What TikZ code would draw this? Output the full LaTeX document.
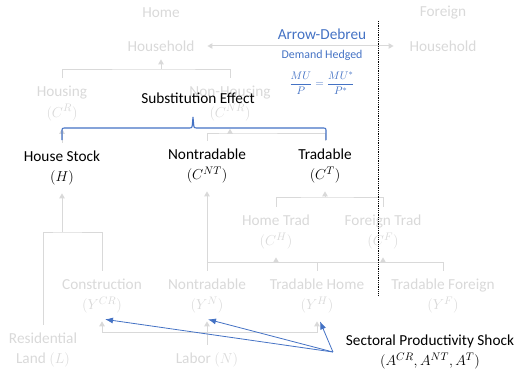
\documentclass[tikz,border=0pt]{standalone}
\usepackage{fontspec}
\setmainfont{Carlito}
\usetikzlibrary{arrows.meta}
\definecolor{faint}{HTML}{D9D9D9}
\definecolor{accent}{HTML}{4472C4}

\begin{document}
\begin{tikzpicture}[x=1pt,y=-1pt,
  every node/.style={inner sep=0pt, outer xsep=0pt, outer ysep=8pt, align=center,
    font=\fontsize{15.3}{20.5}\selectfont},
  ghost/.style={text=faint},
  main/.style={text=black},
  note/.style={text=accent},
  link/.style={draw=faint, line width=1pt},
  up/.style={link, -{Triangle[width=5.5pt,length=5pt]}},
  both/.style={link, {Triangle[width=5.5pt,length=5pt]}-{Triangle[width=5.5pt,length=5pt]}},
  shockarrow/.style={draw=accent, line width=0.8pt, -{Latex[width=6pt,length=8pt]}},
  bracket/.style={draw=accent, line width=1.1pt},
]
\useasboundingbox (0,0) rectangle (519,369);

% --- households and the risk-sharing condition
\node[ghost] (home) at (161,13) {Home};
\node[ghost] (hh) at (161,46) {Household};
\node[ghost] (foreign) at (443,13) {Foreign};
\node[ghost] (fhh) at (443,46) {Household};
\node[note] (ad) at (322,34) {Arrow-Debreu};
\node[note, font=\fontsize{11.9}{14}\selectfont] (dh) at (322,55) {Demand Hedged};
\node[note, font=\fontsize{11}{13}\selectfont, outer ysep=0pt] (mu) at (322,83)
  {$\displaystyle\frac{MU}{P}=\frac{MU^*}{P^*}$};

% --- consumption tree
\node[ghost] (housing) at (62,103.5) {Housing\\$(C^R)$};
\node[ghost] (nonhousing) at (230,103.5) {Non-Housing\\$(C^{NR})$};
\node[main] (subst) at (198,98) {Substitution Effect};
\node[main] (hstock) at (62,168) {House Stock\\$(H)$};
\node[main] (cnt) at (207,166) {Nontradable\\$(C^{NT})$};
\node[main] (ct) at (325,166) {Tradable\\$(C^{T})$};
\node[ghost] (ch) at (276,232) {Home Trad\\$(C^{H})$};
\node[ghost] (cf) at (383,232) {Foreign Trad\\$(C^{F})$};

% --- production
\node[ghost] (ycr) at (102,296) {Construction\\$(Y^{CR})$};
\node[ghost] (yn) at (207,296) {Nontradable\\$(Y^{N})$};
\node[ghost] (yh) at (317,296) {Tradable Home\\$(Y^{H})$};
\node[ghost] (yf) at (443,296) {Tradable Foreign\\$(Y^{F})$};
\node[ghost] (land) at (43,350) {Residential\\Land $(L)$};
\node[ghost] (labor) at (207,360) {Labor $(N)$};
\node[main] (shock) at (430,352) {Sectoral Productivity Shock\\$(A^{CR},A^{NT},A^{T})$};

% --- aggregation lines
\draw[both, shorten <=13pt, shorten >=16pt] (hh.east) -- (fhh.west);

\coordinate (b1) at (161,69);
\draw[link] (housing.north) |- (b1) -| (nonhousing.north);
\draw[up] (b1) -- (hh.south);

\draw[up] (hstock.north) -- (housing.south);

\coordinate (b2) at (230,133);
\draw[link] (cnt.north) |- (b2) -| (ct.north);
\draw[up] (b2) -- (nonhousing.south);

\coordinate (b3) at (325,197);
\draw[link] (ch.north) |- (b3) -| (cf.north);
\draw[up] (b3) -- (ct.south);

\coordinate (b4) at (62,232);
\draw[link] (land.north) |- (b4) -| (ycr.north);
\draw[up] (b4) -- (hstock.south);

\coordinate (b5) at (207,262);
\draw[link] (yn.north) -- (b5) -- (b5 -| yf) -- (yf.north);
\draw[link] (yh.north) -- (yh.north |- b5);
\draw[up] (b5) -- (cnt.south);
\draw[up] (b5 -| ch) -- (ch.south);
\draw[up] (b5 -| cf) -- (cf.south);

\coordinate (b6) at (207,332);
\draw[link] (labor.north) -- (b6);
\draw[up] (b6) -- (yn.south);
\draw[up] (b6) -| (ycr.south);
\draw[up] (b6) -| (yh.south);

% --- substitution bracket
\draw[bracket] (62,140) -- (62,132) .. controls (62,128) .. (66,128) -- (188,128)
  .. controls (192,128) .. (192.4,124) -- (193,117) -- (193.6,124)
  .. controls (194,128) .. (198,128) -- (322,128) .. controls (326,128) .. (326,132) -- (326,140);

% --- home / foreign border
\coordinate (bordertop) at (378,21);
\coordinate (borderbot) at (378,295);
\draw[black, line width=0.8pt, densely dotted] (bordertop) -- (borderbot);

% --- productivity shocks
\coordinate (src) at ([xshift=-13pt]shock.west);
\draw[shockarrow] (src) -- ([xshift=3pt,yshift=2pt]ycr.south);
\draw[shockarrow] (src) -- ([xshift=1pt,yshift=2pt]yn.south);
\draw[shockarrow] (src) -- ([xshift=3pt,yshift=0pt]yh.south);
\end{tikzpicture}
\end{document}
